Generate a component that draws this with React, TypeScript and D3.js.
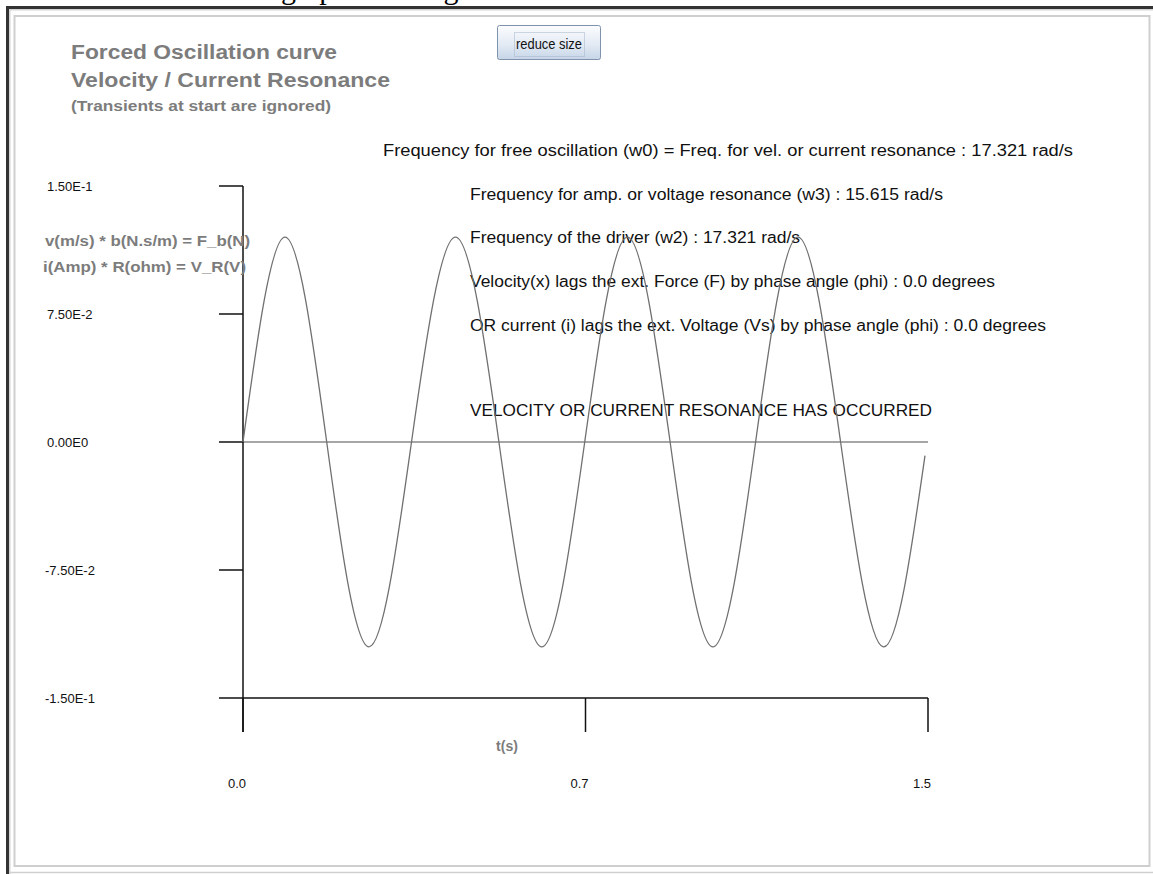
import React from "react";
import * as d3 from "d3";

// ---------- data ----------
const timeSec = [0, 0.092, 0.1833, 0.2759, 0.369, 0.4653, 0.5604, 0.6543, 0.7483, 0.8418, 0.9353, 1.029, 1.1225, 1.2153, 1.3086, 1.4021, 1.4934];
const velocity = [0, 0.12, 0, -0.12, 0, 0.12, 0, -0.12, 0, 0.12, 0, -0.12, 0, 0.12, 0, -0.12, -0.008];

const yTickValues = [0.15, 0.075, 0, -0.075, -0.15];
const yTickLabels = ["1.50E-1", "7.50E-2", "0.00E0", "-7.50E-2", "-1.50E-1"];
const xTickValues = [0, 0.75, 1.5];
const xTickLabels = ["0.0", "0.7", "1.5"];

const titleLines = ["Forced Oscillation curve", "Velocity / Current Resonance", "(Transients at start are ignored)"];
const yLabelLines = ["v(m/s) * b(N.s/m) = F_b(N)", "i(Amp) * R(ohm) = V_R(V)"];
const infoLines = [
  "Frequency for free oscillation (w0) = Freq. for vel. or current resonance : 17.321 rad/s",
  "Frequency for amp. or voltage resonance (w3) : 15.615 rad/s",
  "Frequency of the driver (w2) : 17.321 rad/s",
  "Velocity(x) lags the ext. Force (F) by phase angle (phi) : 0.0 degrees",
  "OR current (i) lags the ext. Voltage (Vs) by phase angle (phi) : 0.0 degrees",
  "VELOCITY OR CURRENT RESONANCE HAS OCCURRED",
];
const xAxisTitle = "t(s)";
const buttonLabel = "reduce size";
const topCutText = "graph showing";

// ---------- layout ----------
const W = 1153;
const H = 874;
const plot = { left: 243, right: 928, top: 186, bottom: 698 };
const titleLayout = [
  { x: 71, y: 59, size: 20, len: 266 },
  { x: 71, y: 87, size: 20, len: 319 },
  { x: 71, y: 111, size: 14, len: 260 },
];
const yLabelLayout = [
  { x: 45, y: 246, len: 205 },
  { x: 43, y: 272, len: 203 },
];
const infoLayout = [
  { x: 383, y: 156, len: 690 },
  { x: 470, y: 200, len: 473 },
  { x: 470, y: 243, len: 330 },
  { x: 470, y: 287, len: 525 },
  { x: 470, y: 331, len: 576 },
  { x: 470, y: 416, len: 462 },
];

export default function App() {
  const x = d3.scaleLinear().domain([0, 1.5]).range([plot.left, plot.right]);
  const y = d3.scaleLinear().domain([-0.15, 0.15]).range([plot.bottom, plot.top]);

  const pts = timeSec.map((t, i) => [t, velocity[i]] as [number, number]);
  const line = d3
    .line<[number, number]>()
    .x((d) => x(d[0]))
    .y((d) => y(d[1]))
    .curve(d3.curveNatural);

  const sans = "'Liberation Sans', Arial, sans-serif";
  const gray = "#7c7c7c";

  return (
    <svg
      width={W}
      height={H}
      viewBox={`0 0 ${W} ${H}`}
      style={{ position: "absolute", left: 0, top: 0, display: "block", background: "#fff" }}
    >
      <defs>
        <linearGradient id="btnGrad" x1="0" y1="0" x2="0" y2="1">
          <stop offset="0" stopColor="#fbfcfe" />
          <stop offset="0.55" stopColor="#e4ebf4" />
          <stop offset="1" stopColor="#c6d5e8" />
        </linearGradient>
      </defs>

      {/* cut-off text above the frame */}
      <text x={281} y={-1.5} fontFamily="'Liberation Serif', 'Times New Roman', serif" fontSize={30} fill="#000">
        {topCutText}
      </text>

      {/* frame */}
      <rect x={6} y={6} width={W - 6} height={3} fill="#333" />
      <rect x={6} y={6} width={3} height={H - 6} fill="#333" />
      <rect x={9} y={9} width={W - 9} height={1.5} fill="#d4d4d4" />
      <rect x={9} y={9} width={1.5} height={H - 9} fill="#d4d4d4" />
      <rect x={14.5} y={16} width={1135} height={850} fill="none" stroke="#cfcfcf" strokeWidth={2} />
      <line x1={10} x2={W} y1={872.5} y2={872.5} stroke="#d0d0d0" strokeWidth={1.5} />

      {/* button */}
      <rect x={497.5} y={25.5} width={103} height={34} rx={2} fill="url(#btnGrad)" stroke="#8093ad" strokeWidth={1} />
      <rect x={514.5} y={32.5} width={70} height={24} fill="none" stroke="#a3b3c8" strokeWidth={1} strokeDasharray="1,1" />
      <text x={549} y={48.5} textAnchor="middle" fontFamily={sans} fontSize={15} fill="#111" textLength={66} lengthAdjust="spacingAndGlyphs">
        {buttonLabel}
      </text>

      {/* titles */}
      {titleLines.map((t, i) => (
        <text
          key={t}
          x={titleLayout[i].x}
          y={titleLayout[i].y}
          fontFamily={sans}
          fontWeight="bold"
          fontSize={titleLayout[i].size}
          fill={gray}
          textLength={titleLayout[i].len}
          lengthAdjust="spacingAndGlyphs"
        >
          {t}
        </text>
      ))}

      {/* info text */}
      {infoLines.map((t, i) => (
        <text
          key={t}
          x={infoLayout[i].x}
          y={infoLayout[i].y}
          fontFamily={sans}
          fontSize={16}
          fill="#111"
          textLength={infoLayout[i].len}
          lengthAdjust="spacingAndGlyphs"
        >
          {t}
        </text>
      ))}

      {/* y tick labels + ticks */}
      {yTickValues.map((v, i) => (
        <g key={yTickLabels[i]}>
          <line x1={plot.left - 24} x2={plot.left} y1={y(v)} y2={y(v)} stroke="#111" strokeWidth={1.5} />
          <text x={v < 0 ? 45 : 47} y={y(v) + 4.5} fontFamily={sans} fontSize={13} fill="#111">
            {yTickLabels[i]}
          </text>
        </g>
      ))}

      {/* zero line */}
      <line x1={x(0)} x2={x(1.5)} y1={y(0)} y2={y(0)} stroke="#888" strokeWidth={1.5} />

      {/* axes */}
      <line x1={plot.left} x2={plot.left} y1={plot.top} y2={plot.bottom + 34} stroke="#111" strokeWidth={1.5} />
      <line x1={x(0)} x2={x(1.5)} y1={plot.bottom} y2={plot.bottom} stroke="#111" strokeWidth={1.5} />
      {xTickValues.map((v, i) => (
        <g key={xTickLabels[i]}>
          <line x1={x(v)} x2={x(v)} y1={plot.bottom} y2={plot.bottom + 34} stroke="#111" strokeWidth={1.5} />
          <text x={x(v) - 6} y={plot.bottom + 90} textAnchor="middle" fontFamily={sans} fontSize={13} fill="#111">
            {xTickLabels[i]}
          </text>
        </g>
      ))}
      <text x={507} y={751} textAnchor="middle" fontFamily={sans} fontWeight="bold" fontSize={14} fill={gray}>
        {xAxisTitle}
      </text>

      {/* y label */}
      {yLabelLines.map((t, i) => (
        <text
          key={t}
          x={yLabelLayout[i].x}
          y={yLabelLayout[i].y}
          fontFamily={sans}
          fontWeight="bold"
          fontSize={14}
          fill={gray}
          textLength={yLabelLayout[i].len}
          lengthAdjust="spacingAndGlyphs"
        >
          {t}
        </text>
      ))}

      {/* curve */}
      <path d={line(pts) || ""} fill="none" stroke="#707070" strokeWidth={1.3} />
    </svg>
  );
}
